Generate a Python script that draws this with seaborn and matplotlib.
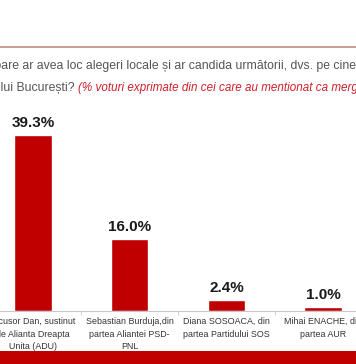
import matplotlib
matplotlib.use('Agg')
import matplotlib.pyplot as plt
from matplotlib.patches import Rectangle
from matplotlib.lines import Line2D
import seaborn as sns
import pandas as pd

# Data
candidates = ['Nicusor Dan, sustinut\nde Alianta Dreapta\nUnita (ADU)',
              'Sebastian Burduja,din\npartea Aliantei PSD-\nPNL',
              'Diana SOSOACA, din\npartea Partidului SOS',
              'Mihai ENACHE, din\npartea AUR']
votes = [39.3, 16.0, 2.4, 1.0]

title_prefix = 'Dacă duminica viito'
title_line1 = ('are ar avea loc alegeri locale și ar candida următorii, dvs. pe cine '
               'ați vota pentru funcția de Primar General al')
title_prefix2 = 'Municipiu'
title_line2 = 'lui București? '
title_note = '(% voturi exprimate din cei care au mentionat ca merge la vot)'

df = pd.DataFrame({'candidat': candidates, 'voturi': votes})

sns.set_theme(style='white')
plt.rcParams['font.family'] = ['Liberation Sans', 'DejaVu Sans']

W, H = 356, 364
fig = plt.figure(figsize=(W / 100, H / 100), dpi=100)
fig.patch.set_facecolor('white')

# axes extends past the left and right edge of the picture (cropped slide)
left_px, right_px = -15.5, 371.5
bottom_px, top_px = 311, 109.4
ax = fig.add_axes([left_px / W, 1 - bottom_px / H,
                   (right_px - left_px) / W, (bottom_px - top_px) / H])
ax.set_facecolor('white')

sns.barplot(data=df, x='candidat', y='voturi', color='#c00000', saturation=1,
            width=0.39, ax=ax)
ax.set_xlim(-0.5, 3.5)
ax.set_ylim(0, 45)
ax.bar_label(ax.containers[0], fmt='%.1f%%', padding=3.5, fontsize=11,
             fontweight='bold', color='#1a1a1a')

for s in ['top', 'right', 'left']:
    ax.spines[s].set_visible(False)
ax.spines['bottom'].set_color('#c8c8c8')
ax.spines['bottom'].set_linewidth(0.8)
ax.set_yticks([])
ax.set_xlabel('')
ax.set_ylabel('')
ax.set_xticks([0.5, 1.5, 2.5], minor=True)
ax.tick_params(axis='x', which='major', length=0, pad=4.5, labelsize=6.4,
               labelcolor='#333333')
ax.tick_params(axis='x', which='minor', length=3, width=0.6, color='#c8c8c8',
               direction='out', bottom=True)
for lbl in ax.get_xticklabels():
    lbl.set_linespacing(1.5)

# header
renderer = fig.canvas.get_renderer()


def text_width(s, **kw):
    t = fig.text(0, 0, s, **kw)
    w = t.get_window_extent(renderer).width
    t.remove()
    return w


hdr = dict(fontsize=8.85, color='#555555')
w1 = text_width(title_prefix, **hdr)
fig.text((1 - w1) / W, 1 - 66 / H, title_prefix + title_line1, va='center', **hdr)
w2 = text_width(title_prefix2, **hdr)
fig.text(-w2 / W, 1 - 88 / H, title_prefix2 + title_line2, va='center', **hdr)
w3 = text_width(title_line2, **hdr)
fig.text((w3 + 1) / W, 1 - 88 / H, title_note, va='center', fontsize=8.35,
         style='italic', color='#d0202a')

fig.add_artist(Line2D([0, 1], [1 - 47 / H, 1 - 47 / H], color='#c28a85', lw=1.2))
fig.add_artist(Rectangle((0, 0), 1, 13 / H, color='#c00000', lw=0))

fig.savefig('out.png', dpi=100, facecolor='white')
